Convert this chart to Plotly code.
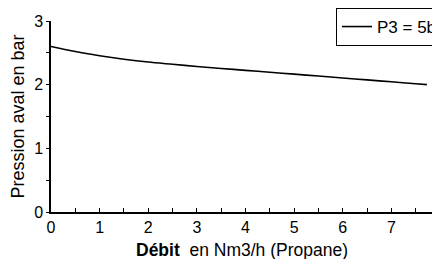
import plotly.graph_objects as go

debit = [0, 0.5, 1, 1.5, 2, 2.5, 3, 3.5, 4, 4.5, 5, 5.5, 6, 6.5, 7, 7.5, 7.73]
pression = [2.60, 2.52, 2.455, 2.40, 2.355, 2.32, 2.285, 2.255, 2.225, 2.195, 2.165, 2.135, 2.105, 2.075, 2.045, 2.015, 2.00]
series_name = "P3 = 5b"
x_ticks = [0, 1, 2, 3, 4, 5, 6, 7, 8]
y_ticks = [0, 1, 2, 3]

FONT = "Liberation Sans, Arial, Helvetica, sans-serif"

# The page body adds an 8 px margin, so the figure is 8 px smaller than the window.
W, H = 432, 251

fig = go.Figure()
fig.add_trace(go.Scatter(x=debit, y=pression, mode="lines", name=series_name,
                         line=dict(color="black", width=1.6, shape="spline", smoothing=0.8),
                         showlegend=True, cliponaxis=False))

fig.update_layout(
    width=W, height=H,
    margin=dict(l=43, r=0, t=13, b=47, autoexpand=False),
    paper_bgcolor="white", plot_bgcolor="white",
    font=dict(family=FONT, size=16, color="black"),
    showlegend=True,
    legend=dict(x=328 / W, y=1.0, xref="container", yref="container",
                xanchor="left", yanchor="top",
                bgcolor="white", bordercolor="black", borderwidth=1,
                font=dict(size=17), itemwidth=30,
                tracegroupgap=0),
    xaxis=dict(range=[0, 8], tickvals=x_ticks, showline=True, linecolor="black",
               linewidth=1.5, ticks="inside", ticklen=4, tickwidth=1.2, tickcolor="black",
               showgrid=False, zeroline=False, ticklabeloverflow="allow",
               minor=dict(dtick=0.5, ticks="inside", ticklen=4, tickcolor="black", tickwidth=1.2)),
    yaxis=dict(range=[0, 3], tickvals=y_ticks, showline=True, linecolor="black",
               linewidth=1.5, ticks="outside", ticklen=3, tickwidth=1.2, tickcolor="black",
               showgrid=False, zeroline=False,
               title=dict(text="Pression aval en bar", font=dict(size=18), standoff=6),
               minor=dict(dtick=0.5, ticks="outside", ticklen=3, tickcolor="black", tickwidth=1.2)),
)

fig.add_annotation(text="<b>Débit</b>  en Nm3/h (Propane)", xref="paper", yref="paper",
                   x=(242 - 51) / 388, y=-0.135, xanchor="center", yanchor="top",
                   showarrow=False, font=dict(size=17.5))

fig.write_html("out.html")
